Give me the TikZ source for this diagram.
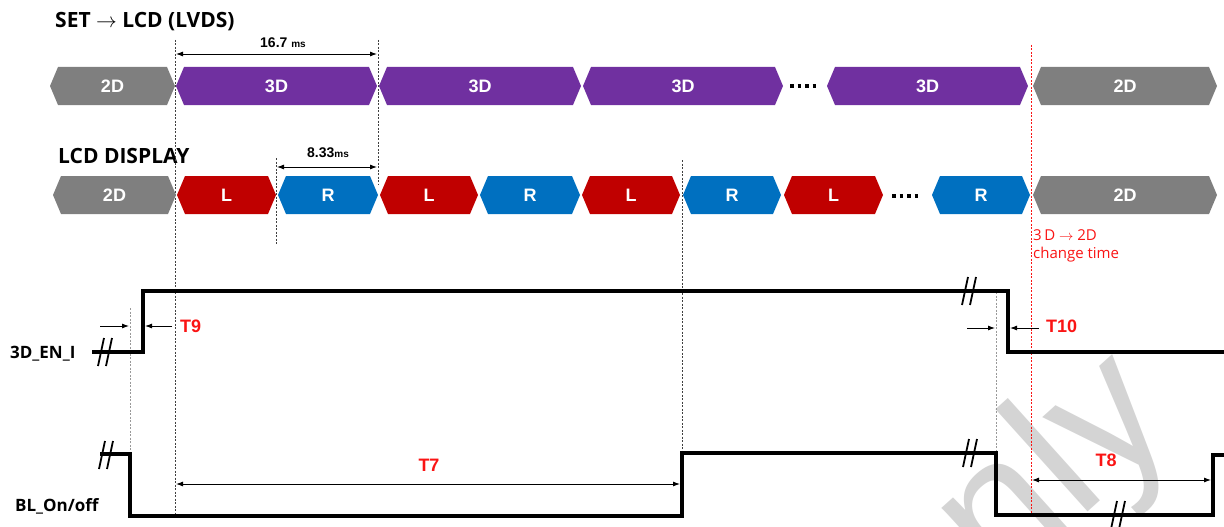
\documentclass[tikz,border=0pt]{standalone}
\usepackage{fontspec}
\setmainfont{Open Sans}
\newfontfamily\arialf{Liberation Sans}
\usetikzlibrary{arrows.meta}
\definecolor{hgray}{RGB}{127,127,127}
\definecolor{hpurple}{RGB}{112,48,160}
\definecolor{hred}{RGB}{192,0,0}
\definecolor{hblue}{RGB}{0,112,192}
\definecolor{tred}{RGB}{250,20,20}
\definecolor{wmark}{RGB}{212,212,212}
\newcommand\hexbox[6]{%
  \fill[#5] (#2,#4) -- (#2+8,#4-19) -- (#3-8,#4-19) -- (#3,#4) -- (#3-8,#4+19) -- (#2+8,#4+19) -- cycle;
  \node[hexlabel] (#1) at ({(#2+#3)/2},#4) {#6};}
\tikzset{
  hexlabel/.style={text=white,font=\arialf\bfseries\fontsize{18}{18}\selectfont,inner sep=0pt},
  guide/.style={black!75,line width=0.8pt,dash pattern=on 2pt off 1.5pt},
  lguide/.style={black!40,line width=0.9pt,dash pattern=on 2pt off 1.5pt},
  rguide/.style={tred,line width=0.8pt,dash pattern=on 2pt off 1.5pt},
  sig/.style={line width=3.1pt,line join=miter,line cap=butt},
  dimarr/.style={line width=0.9pt,{Latex[length=7pt,width=5pt]}-{Latex[length=7pt,width=5pt]}},
  onearr/.style={line width=0.9pt,-{Latex[length=7pt,width=5pt]}},
  tlabel/.style={text=tred,font=\arialf\bfseries\fontsize{18}{18}\selectfont,inner sep=0pt},
  title/.style={font=\bfseries\fontsize{21}{21}\selectfont,inner sep=0pt,anchor=base west},
  siglabel/.style={font=\bfseries\fontsize{17}{17}\selectfont,inner sep=0pt,anchor=base west},
  dimlabel/.style={font=\arialf\bfseries\fontsize{14}{14}\selectfont,inner sep=0pt},
  brk/.pic={\draw[line width=1.8pt] (-7,14) -- (-1,-14); \draw[line width=1.8pt] (1,14) -- (7,-14);},
  dotrow/.style={line width=3.5pt,dash pattern=on 3.5pt off 4pt}
}
\begin{document}
\begin{tikzpicture}[x=1pt,y=-1pt]
\useasboundingbox (0,0) rectangle (1224,527);
% watermark
\begin{scope}
\clip (0,0) rectangle (1224,527);
\node[rotate=42,anchor=base west,inner sep=0pt,text=wmark,font=\arialf\fontsize{190}{190}\selectfont] (wm) at (921,662) {only};
\end{scope}
% titles
\node[title] (t1) at (55,28) {SET $\rightarrow$ LCD (LVDS)};
\node[title] (t2) at (58,163) {LCD DISPLAY};
% guide lines
\draw[guide] (175,40) -- (175,516);
\draw[guide] (378,40) -- (378,185);
\draw[guide] (276,158) -- (276,245);
\draw[guide] (682,160) -- (682,453);
\draw[lguide] (130,308) -- (130,455);
\draw[lguide] (996,292) -- (996,453);
\draw[rguide] (1031,45) -- (1031,516);
% row 1
\hexbox{a1}{50}{175}{86}{hgray}{2D}
\hexbox{a2}{176}{377}{86}{hpurple}{3D}
\hexbox{a3}{379}{581}{86}{hpurple}{3D}
\hexbox{a4}{583}{783}{86}{hpurple}{3D}
\draw[dotrow] (790,86) -- (818,86);
\hexbox{a5}{827}{1028}{86}{hpurple}{3D}
\hexbox{a6}{1033}{1217}{86}{hgray}{2D}
% row 2
\hexbox{b1}{53}{176}{195}{hgray}{2D}
\hexbox{b2}{177}{276}{195}{hred}{L}
\hexbox{b3}{278}{378}{195}{hblue}{R}
\hexbox{b4}{380}{478}{195}{hred}{L}
\hexbox{b5}{480}{580}{195}{hblue}{R}
\hexbox{b6}{582}{680}{195}{hred}{L}
\hexbox{b7}{683}{781}{195}{hblue}{R}
\hexbox{b8}{784}{883}{195}{hred}{L}
\draw[dotrow] (892,196) -- (920,196);
\hexbox{b9}{932}{1030}{195}{hblue}{R}
\hexbox{b10}{1033}{1217}{195}{hgray}{2D}
% dimensions
\coordinate (d1a) at (176,54); \coordinate (d1b) at (377,54);
\draw[dimarr] (d1a) -- (d1b);
\node[dimlabel] (d1) at (283,43) {16.7 {\fontsize{10}{10}\selectfont ms}};
\coordinate (d2a) at (277,167); \coordinate (d2b) at (377,167);
\draw[dimarr] (d2a) -- (d2b);
\node[dimlabel] (d2) at (328,153) {8.33{\fontsize{10}{10}\selectfont ms}};
% change time
\node[text=tred,font=\fontsize{15}{18}\selectfont,align=left,anchor=north west,inner sep=0pt] (ct) at (1033,229) {3\,D $\rightarrow$ 2D\\change time};
% signals
\node[siglabel] (s1) at (10,358) {3D\_EN\_I};
\node[siglabel] (s2) at (15,511) {BL\_On/off};
\draw[sig] (92,352) -- (143,352) -- (143,291) -- (1008,291) -- (1008,352) -- (1224,352);
\draw[sig] (100,454) -- (130,454) -- (130,516) -- (682,516) -- (682,453) -- (996,453) -- (996,515) -- (1213,515) -- (1213,455) -- (1226,455);
\pic at (105,352) {brk};
\pic at (106,455) {brk};
\pic at (969,291) {brk};
\pic at (970,453) {brk};
\pic at (1118,515) {brk};
% T9
\coordinate (t9a) at (100,326); \coordinate (t9b) at (129,326);
\coordinate (t9c) at (172,326); \coordinate (t9d) at (145,326);
\draw[onearr] (t9a) -- (t9b);
\draw[onearr] (t9c) -- (t9d);
\node[tlabel,anchor=west] (T9) at (180,326) {T9};
% T10
\coordinate (t10a) at (967,328); \coordinate (t10b) at (995,328);
\coordinate (t10c) at (1039,328); \coordinate (t10d) at (1010,328);
\draw[onearr] (t10a) -- (t10b);
\draw[onearr] (t10c) -- (t10d);
\node[tlabel,anchor=west] (T10) at (1046,326) {T10};
% T7
\coordinate (t7a) at (176,484); \coordinate (t7b) at (680,484);
\draw[dimarr] (t7a) -- (t7b);
\node[tlabel] (T7) at (429,465) {T7};
% T8
\coordinate (t8a) at (1032,480); \coordinate (t8b) at (1211,480);
\draw[dimarr] (t8a) -- (t8b);
\node[tlabel] (T8) at (1106,460) {T8};
\end{tikzpicture}
\end{document}
